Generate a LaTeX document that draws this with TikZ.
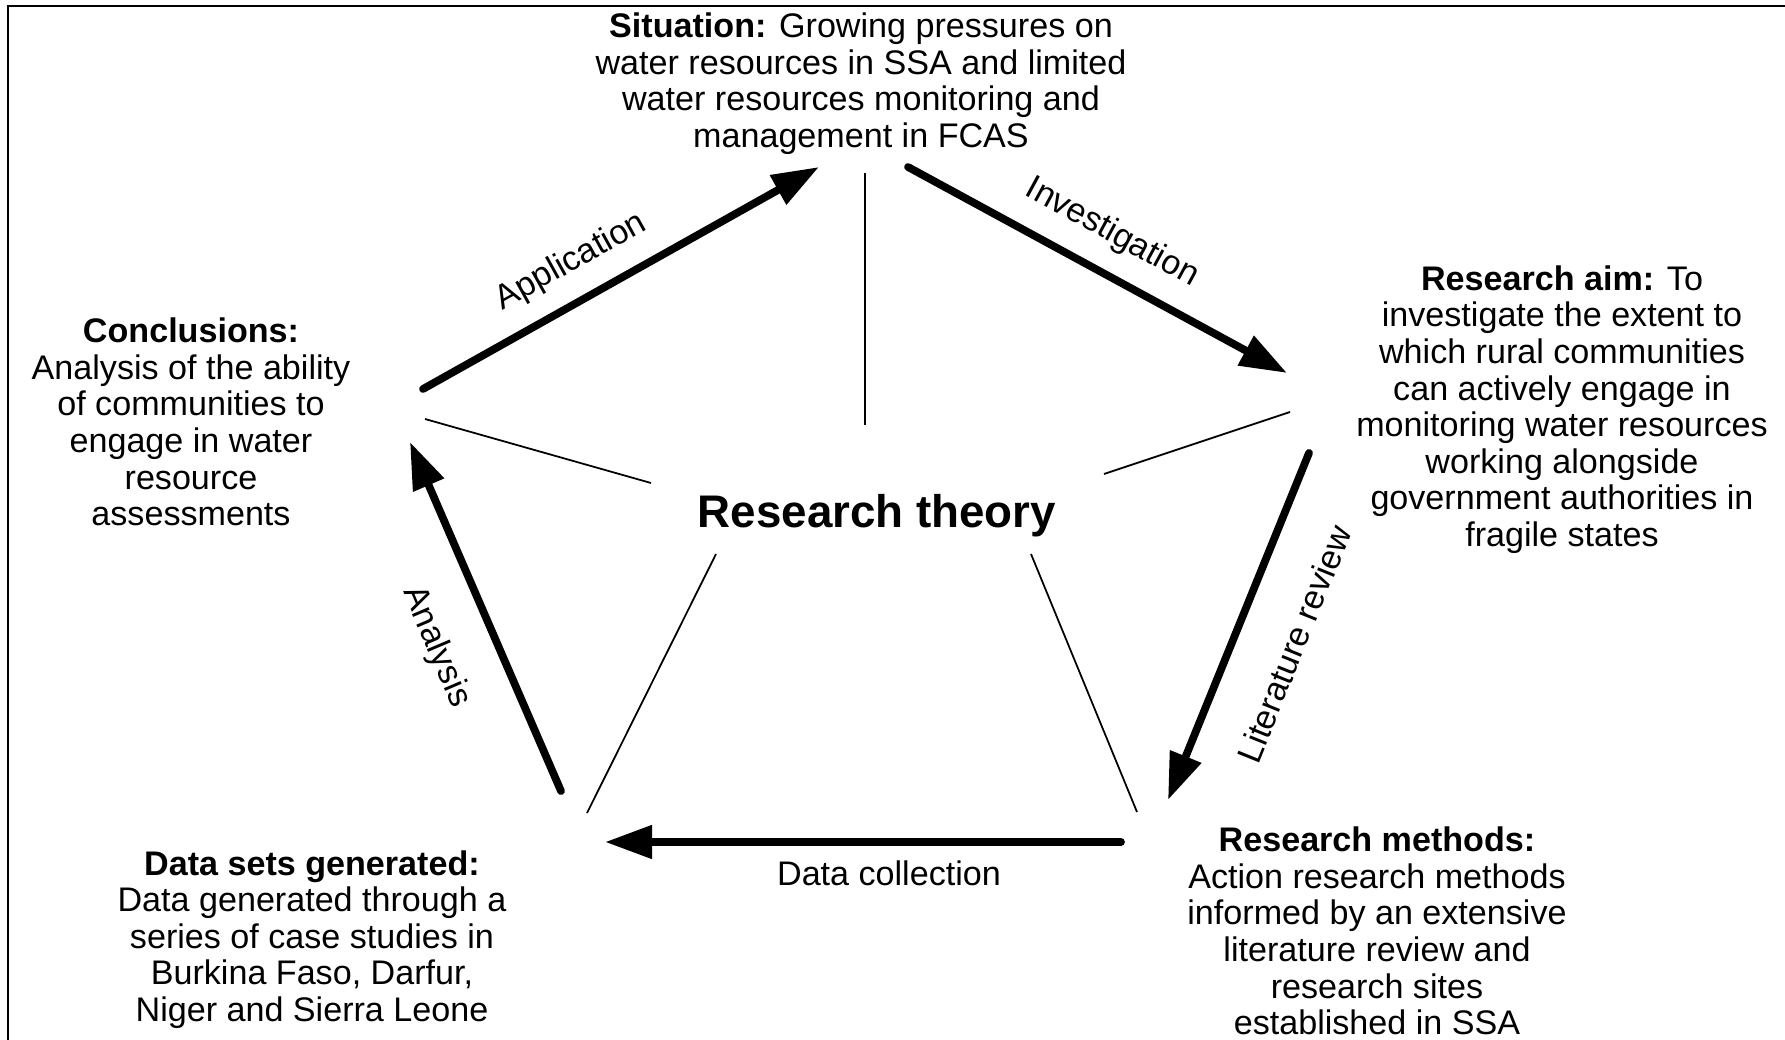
\documentclass[tikz,border=0pt]{standalone}
\usepackage{fontspec}
\setmainfont{Liberation Sans}
\usetikzlibrary{arrows.meta}
\begin{document}
\begin{tikzpicture}[x=0.01cm,y=-0.01cm,
  txt/.style={align=center, font=\fontsize{9.7pt}{10.4pt}\selectfont, inner sep=0pt},
  lbl/.style={font=\fontsize{9.7pt}{10.4pt}\selectfont, inner sep=0pt},
  flow/.style={line width=2.2pt, line cap=round, -{Triangle[length=4.7mm,width=3.2mm]}},
  spoke/.style={line width=0.5pt}]
\useasboundingbox (0,0) rectangle (1785,1040);
\draw[line width=0.7pt] (8,1045) -- (8,6) -- (1790,6);

\node[txt] (sit) at (861,83.5) {\textbf{Situation:} Growing pressures on\\water resources in SSA and limited\\water resources monitoring and\\management in FCAS};
\node[txt] (aim) at (1562,409.5) {\textbf{Research aim:} To\\investigate the extent to\\which rural communities\\can actively engage in\\monitoring water resources\\working alongside\\government authorities in\\fragile states};
\node[txt] (meth) at (1377,931) {\textbf{Research methods:}\\Action research methods\\informed by an extensive\\literature review and\\research sites\\established in SSA};
\node[txt] (data) at (312,939.5) {\textbf{Data sets generated:}\\Data generated through a\\series of case studies in\\Burkina Faso, Darfur,\\Niger and Sierra Leone};
\node[txt] (conc) at (191,422) {\textbf{Conclusions:}\\Analysis of the ability\\of communities to\\engage in water\\resource\\assessments};
\node[inner sep=0pt, font=\fontsize{13pt}{15pt}\selectfont\bfseries] (theory) at (877,515.5) {Research theory};

% arrow end points
\coordinate (a1s) at (423,389); \coordinate (a1e) at (819,167);
\coordinate (a2s) at (908,167); \coordinate (a2e) at (1287,373);
\coordinate (a3s) at (1309,453); \coordinate (a3e) at (1168,800);
\coordinate (a4s) at (1121,842); \coordinate (a4e) at (605,842);
\coordinate (a5s) at (561,791); \coordinate (a5e) at (410,442);

\draw[flow] (a1s) -- (a1e);
\draw[flow] (a2s) -- (a2e);
\draw[flow] (a3s) -- (a3e);
\draw[flow] (a4s) -- (a4e);
\draw[flow] (a5s) -- (a5e);

\node[lbl, rotate=29] (lapp) at (571,262) {Application};
\node[lbl, rotate=-28.6] (linv) at (1112,233) {Investigation};
\node[lbl, rotate=68] (llit) at (1294,644) {Literature review};
\node[lbl] (ldat) at (889,873) {Data collection};
\node[lbl, rotate=-67] (lana) at (436,647) {Analysis};

% spokes
\coordinate (s1a) at (865,173); \coordinate (s1b) at (865,425);
\coordinate (s2a) at (425,419); \coordinate (s2b) at (651,483);
\coordinate (s3a) at (1290,412); \coordinate (s3b) at (1104,474);
\coordinate (s4a) at (716,554); \coordinate (s4b) at (587,813);
\coordinate (s5a) at (1031,554); \coordinate (s5b) at (1137,812);
\draw[spoke] (s1a) -- (s1b);
\draw[spoke] (s2a) -- (s2b);
\draw[spoke] (s3a) -- (s3b);
\draw[spoke] (s4a) -- (s4b);
\draw[spoke] (s5a) -- (s5b);
\end{tikzpicture}
\end{document}
